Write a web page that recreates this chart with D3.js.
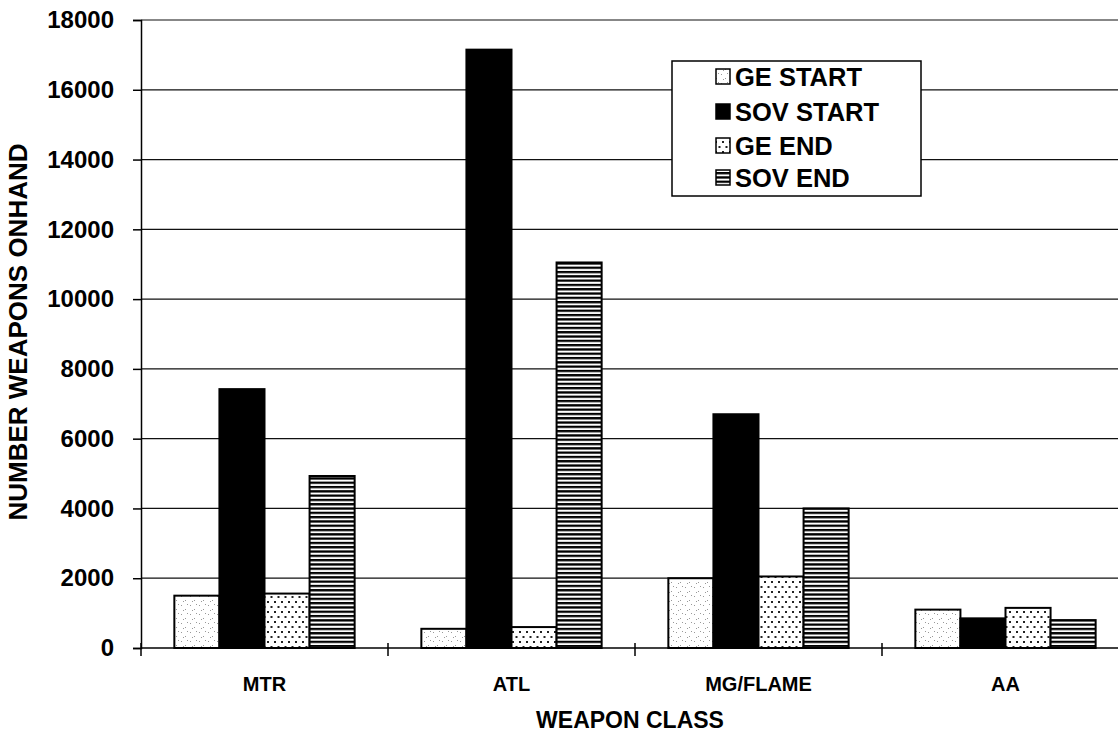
<!DOCTYPE html>
<html>
<head>
<meta charset="utf-8">
<script src="https://cdn.jsdelivr.net/npm/d3@7"></script>
<style>
  body { margin: 0; background: #fff; }
  svg text { font-family: "Liberation Sans", Arial, sans-serif; font-weight: bold; fill: #000; }
</style>
</head>
<body>
<svg id="chart" width="1118" height="733"></svg>
<script>
// chart values
var categories = ["MTR", "ATL", "MG/FLAME", "AA"];
var series = ["GE START", "SOV START", "GE END", "SOV END"];
var geStart = [1500, 550, 2000, 1100];
var sovStart = [7420, 17150, 6700, 850];
var geEnd = [1560, 600, 2050, 1150];
var sovEnd = [4930, 11050, 4000, 800];
var yTicks = [0, 2000, 4000, 6000, 8000, 10000, 12000, 14000, 16000, 18000];

var values = [geStart, sovStart, geEnd, sovEnd];
var fills = ["url(#geStart)", "#000", "url(#geEnd)", "url(#sovEnd)"];

var svg = d3.select("#chart");
var margin = {left: 141, top: 20, bottom: 85};
var H = 733, W = 1118;
var plotBottom = H - margin.bottom; // 648

// patterns
var defs = svg.append("defs");
var p1 = defs.append("pattern").attr("id", "geStart")
    .attr("patternUnits", "userSpaceOnUse").attr("width", 9).attr("height", 9);
p1.append("rect").attr("width", 9).attr("height", 9).attr("fill", "#fff");
[[1, 2], [5, 6], [7, 1], [3, 7]].forEach(function(d) {
  p1.append("rect").attr("x", d[0]).attr("y", d[1]).attr("width", 1).attr("height", 1).attr("fill", "#999");
});
var p2 = defs.append("pattern").attr("id", "geEnd")
    .attr("patternUnits", "userSpaceOnUse").attr("width", 7).attr("height", 10);
p2.append("rect").attr("width", 7).attr("height", 10).attr("fill", "#fff");
p2.append("rect").attr("x", 1).attr("y", 1).attr("width", 2).attr("height", 2).attr("fill", "#222");
p2.append("rect").attr("x", 4.5).attr("y", 6).attr("width", 2).attr("height", 2).attr("fill", "#222");
var p3 = defs.append("pattern").attr("id", "sovEnd")
    .attr("patternUnits", "userSpaceOnUse").attr("width", 8).attr("height", 4.3);
p3.append("rect").attr("width", 8).attr("height", 4.3).attr("fill", "#fff");
p3.append("rect").attr("y", 0).attr("width", 8).attr("height", 2.3).attr("fill", "#000");

var x0 = d3.scaleBand().domain(categories).range([margin.left, margin.left + 4 * 247]).padding(0);
var x1 = d3.scaleBand().domain(series).range([0, x0.bandwidth()]).paddingInner(0).paddingOuter(0.74);
var y = d3.scaleLinear().domain([0, 18000]).range([plotBottom, margin.top]);

// gridlines
svg.append("g").selectAll("line").data(yTicks.slice(1)).join("line")
    .attr("x1", margin.left).attr("x2", W)
    .attr("y1", function(d) { return y(d); }).attr("y2", function(d) { return y(d); })
    .attr("stroke", "#111").attr("stroke-width", 1.2);

// bars
var rows = [];
categories.forEach(function(c, i) {
  series.forEach(function(s, j) { rows.push({cat: c, ser: s, j: j, v: values[j][i]}); });
});
svg.append("g").selectAll("rect").data(rows).join("rect")
    .attr("x", function(d) { return x0(d.cat) + x1(d.ser); })
    .attr("y", function(d) { return y(d.v); })
    .attr("width", x1.bandwidth())
    .attr("height", function(d) { return plotBottom - y(d.v); })
    .attr("fill", function(d) { return fills[d.j]; })
    .attr("stroke", "#000").attr("stroke-width", 2);

// y axis
var yAxis = svg.append("g").attr("transform", "translate(" + margin.left + ",0)")
    .call(d3.axisLeft(y).tickValues(yTicks).tickSize(8).tickPadding(19).tickFormat(d3.format("d")));
yAxis.select(".domain").attr("stroke-width", 1.5);
yAxis.selectAll(".tick line").attr("stroke-width", 1.5);
yAxis.selectAll("text").attr("font-size", 24).attr("font-family", "Liberation Sans, Arial, sans-serif")
    .attr("font-weight", "bold");

// x axis: baseline and ticks between categories
svg.append("line").attr("x1", margin.left).attr("x2", W)
    .attr("y1", plotBottom).attr("y2", plotBottom).attr("stroke", "#000").attr("stroke-width", 1.5);
var bounds = categories.map(function(c) { return x0(c); }).concat([x0(categories[3]) + x0.bandwidth()]);
svg.append("g").selectAll("line").data(bounds).join("line")
    .attr("x1", function(d) { return d; }).attr("x2", function(d) { return d; })
    .attr("y1", plotBottom - 5).attr("y2", plotBottom + 8)
    .attr("stroke", "#000").attr("stroke-width", 1.5);

svg.append("g").selectAll("text").data(categories).join("text")
    .attr("x", function(d) { return x0(d) + x0.bandwidth() / 2; })
    .attr("y", 691)
    .attr("text-anchor", "middle").attr("font-size", 20)
    .text(function(d) { return d; });

// axis titles
svg.append("text").attr("x", 630).attr("y", 728).attr("text-anchor", "middle")
    .attr("font-size", 23).text("WEAPON CLASS");
svg.append("text").attr("transform", "translate(27,332) rotate(-90)").attr("text-anchor", "middle")
    .attr("font-size", 26).text("NUMBER WEAPONS ONHAND");

// legend
var leg = svg.append("g");
leg.append("rect").attr("x", 672).attr("y", 61).attr("width", 249).attr("height", 135)
    .attr("fill", "#fff").attr("stroke", "#000").attr("stroke-width", 1.5);
var legRows = [77, 112, 146, 178];
series.forEach(function(s, j) {
  leg.append("rect").attr("x", 716).attr("y", legRows[j] - 8).attr("width", 14).attr("height", 15)
      .attr("fill", fills[j]).attr("stroke", "#000").attr("stroke-width", 1.5);
  leg.append("text").attr("x", 735).attr("y", legRows[j] + 9).attr("font-size", 25.5).text(s);
});
</script>
</body>
</html>
